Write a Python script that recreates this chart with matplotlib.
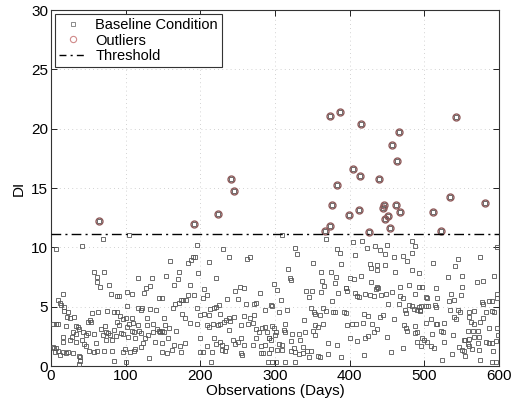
import matplotlib
matplotlib.use("Agg")
import matplotlib.pyplot as plt
from matplotlib.lines import Line2D

plt.rcParams['font.family'] = ['Liberation Sans', 'DejaVu Sans']

# ---- data ----
baseline_x = [
 69, 7, 42, 58, 62, 71, 61, 66, 78, 80, 88, 16, 10, 12, 14, 18, 17, 23, 21, 25, 31, 55, 63, 75, 84, 89,
 7, 10, 3, 20, 34, 36, 38, 52, 54, 50, 30, 34, 43, 47, 49, 58, 67, 72, 74, 77, 79, 84, 87, 88, 69, 16,
 28, 25, 16, 33, 41, 44, 47, 60, 74, 82, 4, 7, 10, 16, 20, 23, 29, 37, 39, 39, 38, 51, 58, 62, 71, 82,
 85, 12, 6, 3,
 104, 160, 190, 188, 183, 171, 154, 170, 135, 116, 165, 186, 133, 127, 125, 109, 102, 91, 192, 183, 177,
 174, 181, 171, 144, 149, 163, 166, 102, 117, 122, 121, 133, 140, 176, 179, 186, 92, 96, 100, 109, 128,
 152, 91, 105, 110, 102, 117, 128, 137, 153, 158, 168, 136, 142, 145, 146, 149, 151, 108, 111, 118, 120,
 94, 97, 103, 113, 130, 126, 139, 157, 149, 165, 173, 180, 99, 113, 120, 123, 106, 96, 111, 148, 155,
 162, 174, 131, 100,
 196, 231, 239, 263, 266, 211, 193, 197, 221, 253, 259, 205, 246, 280, 209, 203, 236, 250, 261, 272,
 275, 225, 221, 218, 195, 213, 200, 205, 212, 226, 238, 232, 235, 240, 245, 258, 267, 272, 286, 294,
 195, 209, 212, 217, 223, 227, 254, 264, 270, 274, 279, 283, 286, 289, 238, 200, 218, 255, 274, 292,
 244, 250, 247, 226, 229, 235, 221, 258, 270, 281, 287, 209, 200, 204, 215, 229, 233, 254, 256, 281,
 284, 292, 214, 291,
 310, 368, 327, 330, 383, 387, 351, 388, 318, 362, 375, 382, 320, 321, 363, 298, 366, 381, 303, 341,
 349, 361, 385, 395, 346, 308, 377, 296, 348, 352, 354, 360, 364, 368, 378, 380, 305, 316, 392, 339,
 354, 358, 364, 313, 296, 299, 301, 300, 312, 314, 292, 294, 323, 332, 340, 351, 354, 334, 322, 305,
 309, 325, 337, 371, 383, 294, 303, 310, 322, 327, 332, 337, 343, 348, 358, 360, 371, 389, 327, 313,
 302, 296, 345,
 417, 404, 483, 487, 423, 434, 441, 450, 407, 447, 459, 472, 477, 483, 427, 428, 437, 448, 436, 461,
 484, 493, 415, 400, 406, 429, 437, 435, 438, 457, 468, 479, 493, 395, 396, 407, 410, 413, 421, 427,
 432, 442, 449, 468, 471, 487, 452, 466, 479, 484, 474, 476, 486, 490, 494, 395, 419, 424, 441, 445,
 460, 397, 403, 409, 418, 430, 437, 473, 476, 477, 487, 490, 487, 432, 424, 420, 400, 410, 450, 490,
 472, 456, 419,
 597, 512, 545, 575, 541, 532, 551, 570, 578, 593, 497, 516, 550, 536, 549, 502, 504, 517, 533, 540,
 577, 578, 587, 590, 597, 598, 493, 496, 502, 505, 514, 515, 494, 535, 545, 548, 560, 566, 582, 590,
 593, 509, 515, 517, 526, 540, 542, 560, 562, 567, 502, 575, 578, 587, 598, 522, 525, 558, 565, 572,
 510, 497, 500, 538, 566, 573, 599, 504, 509, 526, 553, 555, 560, 583, 587, 591, 596, 495, 546, 558,
 560, 572, 513, 551, 553, 564, 573, 592, 537, 554, 524, 575, 590, 596,
]
baseline_y = [
 10.67, 9.86, 10.1, 7.95, 7.5, 7.95, 7.05, 6.7, 6.8, 6.04, 5.9, 6.1, 5.56, 5.34, 5.14, 5.0, 4.63, 4.52,
 4.16, 4.07, 4.13, 4.44, 4.58, 4.63, 4.58, 4.52, 3.54, 3.57, 3.57, 3.37, 3.4, 3.29, 3.12, 3.88, 3.74,
 3.68, 2.89, 2.72, 2.84, 2.61, 2.75, 2.67, 3.09, 3.37, 2.89, 2.75, 2.61, 3.03, 2.53, 3.74, 2.61, 2.47,
 2.44, 2.19, 2.05, 2.05, 2.19, 1.85, 1.71, 1.91, 2.19, 2.19, 1.54, 1.49, 1.26, 1.21, 1.07, 1.21, 1.07,
 0.87, 0.73, 0.42, 0.2, 1.26, 1.21, 1.26, 1.26, 1.26, 0.42, 0.93, 1.15, 1.6,
 11.04, 8.88, 9.16, 8.93, 8.65, 7.95, 7.58, 7.3, 7.39, 7.39, 6.83, 6.83, 6.71, 6.6, 6.18, 6.07, 6.26,
 5.93, 5.98, 5.98, 5.56, 5.56, 5.56, 5.28, 5.7, 5.7, 4.92, 5.2, 5.03, 4.92, 4.92, 4.72, 4.78, 4.75,
 4.35, 4.02, 3.65, 4.24, 3.93, 4.02, 4.02, 4.02, 4.07, 3.46, 3.51, 3.62, 3.29, 3.46, 3.46, 3.57, 3.46,
 3.17, 2.95, 2.84, 3.12, 2.95, 2.84, 2.95, 2.84, 2.95, 2.84, 2.95, 2.75, 2.75, 2.67, 2.47, 2.33, 2.61,
 2.33, 2.05, 2.33, 1.91, 1.77, 1.71, 1.91, 1.43, 1.43, 1.63, 1.91, 1.15, 1.21, 1.26, 1.21, 1.07, 1.35,
 1.21, 0.7, 0.31,
 10.2, 9.86, 9.16, 9.02, 9.16, 8.79, 9.16, 7.87, 7.44, 6.69, 6.54, 6.49, 6.35, 6.18, 5.98, 5.76, 5.65,
 5.65, 5.22, 5.22, 5.28, 5.14, 5.0, 4.92, 4.92, 4.78, 4.3, 4.35, 4.3, 4.35, 4.07, 3.74, 3.88, 3.79,
 4.16, 4.24, 4.07, 4.3, 4.72, 5.14, 3.51, 3.46, 3.26, 3.51, 3.46, 3.57, 3.46, 3.51, 3.6, 3.09, 2.89,
 3.17, 3.26, 2.89, 3.03, 2.39, 2.39, 2.33, 2.33, 2.33, 2.19, 1.99, 1.83, 1.99, 1.77, 1.63, 1.88, 1.77,
 1.77, 1.71, 1.77, 1.71, 1.21, 1.15, 1.21, 1.35, 1.26, 1.07, 0.93, 1.07, 1.07, 1.07, 0.37, 0.37,
 11.04, 10.7, 9.92, 9.44, 9.83, 9.49, 8.71, 8.6, 8.15, 7.95, 7.89, 7.53, 7.39, 7.22, 7.16, 6.91, 6.74,
 7.02, 6.4, 6.35, 6.35, 6.26, 6.12, 6.54, 5.84, 5.53, 5.48, 5.08, 4.86, 4.52, 4.35, 4.3, 4.92, 4.63,
 4.52, 4.52, 4.52, 4.69, 4.52, 3.88, 3.46, 3.31, 3.51, 3.51, 3.4, 3.17, 2.89, 2.61, 3.03, 2.84, 2.39,
 2.19, 2.67, 2.67, 2.84, 2.95, 2.61, 2.19, 2.11, 1.83, 1.77, 1.54, 1.63, 1.91, 1.77, 1.43, 1.35, 1.35,
 1.26, 1.15, 1.01, 1.07, 1.26, 1.26, 0.84, 0.73, 1.01, 0.79, 0.31, 0.37, 0.37, 0.37, 0.79,
 10.53, 10.48, 10.53, 10.14, 9.92, 10.14, 9.78, 10.2, 9.35, 9.44, 9.16, 9.27, 8.88, 9.49, 8.6, 8.23,
 8.51, 8.51, 8.09, 7.95, 8.09, 7.81, 7.61, 7.44, 7.3, 7.05, 6.69, 6.49, 6.54, 6.26, 6.69, 6.83, 6.69,
 6.54, 6.32, 6.12, 5.93, 5.84, 6.04, 5.98, 5.93, 5.98, 6.07, 5.93, 5.7, 6.04, 5.22, 5.22, 5.14, 5.06,
 4.72, 4.44, 4.8, 4.72, 4.72, 4.44, 4.35, 4.24, 4.16, 4.3, 3.93, 3.46, 3.51, 3.54, 3.6, 3.51, 3.12,
 3.46, 3.17, 2.95, 3.37, 2.89, 2.75, 2.89, 2.56, 2.39, 2.33, 2.11, 2.47, 2.05, 1.54, 1.21, 0.93,
 10.06, 8.65, 9.02, 9.16, 8.43, 7.47, 7.61, 7.11, 7.16, 7.61, 6.69, 6.6, 6.63, 6.07, 5.98, 5.84, 5.7,
 5.76, 5.48, 5.53, 5.36, 5.25, 5.48, 5.48, 6.04, 5.7, 5.0, 5.06, 5.06, 5.06, 5.14, 4.94, 4.63, 4.72,
 4.72, 4.52, 4.52, 4.66, 4.52, 4.63, 4.52, 3.93, 3.54, 3.54, 3.6, 4.16, 3.93, 4.16, 3.74, 3.54, 3.6,
 3.74, 4.02, 3.17, 3.23, 2.95, 2.89, 2.95, 2.95, 2.95, 2.67, 2.33, 2.19, 2.61, 2.47, 2.42, 2.61, 1.99,
 1.71, 2.05, 2.19, 2.19, 2.28, 2.05, 1.91, 1.97, 2.13, 1.71, 1.63, 1.83, 1.71, 1.91, 1.54, 1.35, 1.26,
 1.43, 1.35, 1.26, 1.01, 0.84, 0.51, 0.51, 0.37, 0.37,
]

outlier_x = [64, 191, 224, 241, 245, 367, 374, 373, 387, 376, 383, 399, 405, 412, 414, 415, 426, 439,
             444, 446, 447, 452, 454, 457, 462, 464, 466, 467, 511, 523, 534, 543, 581]
outlier_y = [12.24, 11.94, 12.78, 15.73, 14.72, 11.40, 11.79, 21.06, 21.37, 13.54, 15.22, 12.70,
             16.62, 13.17, 16.0, 20.36, 11.26, 15.75, 13.31, 13.56, 12.38, 12.66, 11.65, 18.59, 13.59,
             17.30, 19.69, 12.95, 12.97, 11.40, 14.26, 21.0, 13.73]

threshold = 11.1

labels = ["Baseline Condition", "Outliers", "Threshold"]
x_ticks = [0, 100, 200, 300, 400, 500, 600]
y_ticks = [0, 5, 10, 15, 20, 25, 30]

# ---- plot ----
fig = plt.figure(figsize=(5.11, 4.04), dpi=100)
ax = fig.add_axes([0.0998, 0.094, 0.8767, 0.881])

sq_color = '#555555'
circ_color = '#8e5a5a'

ax.plot(baseline_x, baseline_y, linestyle='none', marker='s', markersize=2.6,
        markerfacecolor='none', markeredgecolor=sq_color, markeredgewidth=0.6, zorder=3)
ax.plot(outlier_x, outlier_y, linestyle='none', marker='s', markersize=2.6,
        markerfacecolor='none', markeredgecolor=sq_color, markeredgewidth=0.6, zorder=3)
ax.plot(outlier_x, outlier_y, linestyle='none', marker='o', markersize=5.0,
        markerfacecolor='none', markeredgecolor=circ_color, markeredgewidth=1.0, zorder=4)
ax.axhline(threshold, color='black', linestyle='-.', linewidth=1.0, dashes=(7, 3, 1.5, 3), zorder=5)

ax.set_xlim(0, 600)
ax.set_ylim(0, 30)
ax.set_xticks(x_ticks)
ax.set_yticks(y_ticks)
ax.tick_params(direction='in', length=4, width=0.6, labelsize=11, top=True, right=True, pad=2)
ax.grid(True, linestyle=(0, (1, 4)), color='#c4c4c4', linewidth=0.6)
for s in ax.spines.values():
    s.set_linewidth(0.8)
    s.set_color('#333333')
ax.set_xlabel("Observations (Days)", fontsize=11, labelpad=1)
ax.set_ylabel("DI", fontsize=11, labelpad=4)

handles = [
    Line2D([], [], linestyle='none', marker='s', markersize=2.6, markerfacecolor='none',
           markeredgecolor='#777777', markeredgewidth=0.6),
    Line2D([], [], linestyle='none', marker='o', markersize=4.5, markerfacecolor='none',
           markeredgecolor='#d08a8a', markeredgewidth=0.8),
    Line2D([], [], color='black', linestyle='-.', linewidth=1.0, dashes=(5, 3, 1.5, 3)),
]
leg = ax.legend(handles, labels, loc='upper left', fontsize=10.5, frameon=True, fancybox=False,
                edgecolor='#333333', framealpha=1, borderpad=0.25, labelspacing=0.1,
                handlelength=1.9, handletextpad=0.6, borderaxespad=0.3)
leg.get_frame().set_linewidth(0.8)

fig.savefig("out.png", dpi=100)
